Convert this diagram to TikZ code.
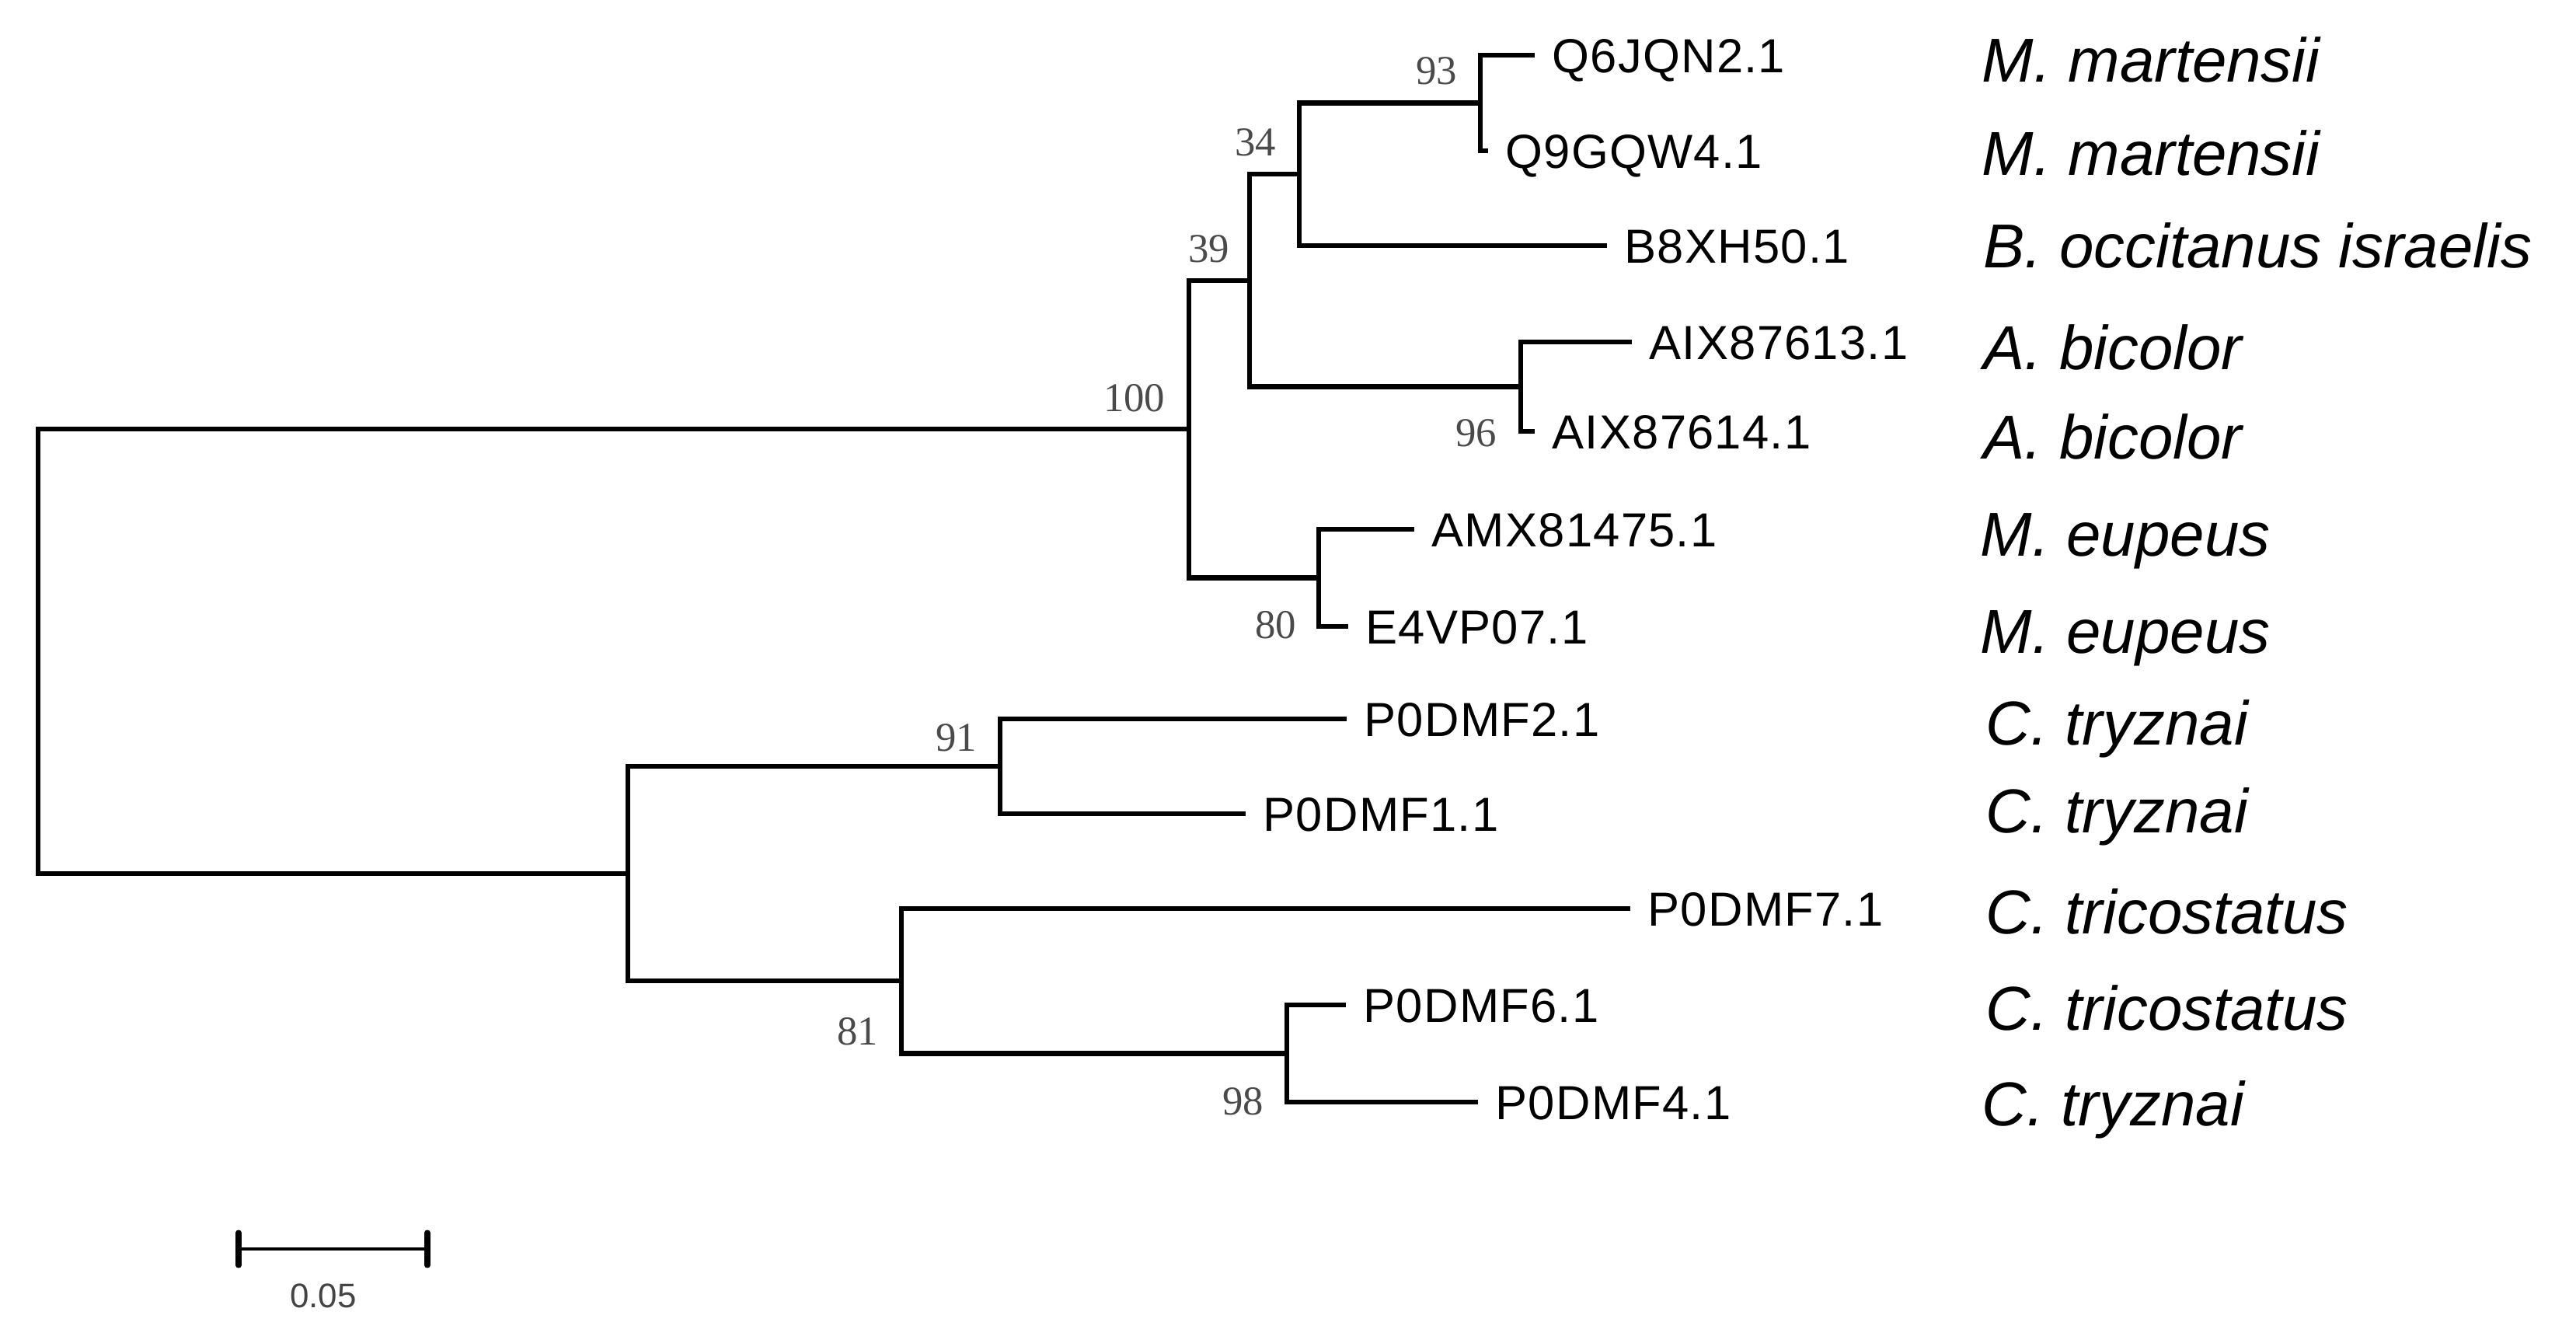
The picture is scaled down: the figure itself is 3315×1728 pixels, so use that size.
\documentclass[tikz,border=0pt]{standalone}
\usepackage{fontspec}
\setmainfont{Liberation Sans}
\newfontfamily\accfont[LetterSpace=2]{Liberation Sans}
\newfontfamily\bsfont{Liberation Serif}
\definecolor{bsgray}{HTML}{4A4A4A}
\definecolor{sbgray}{HTML}{444444}
\begin{document}
\begin{tikzpicture}[x=0.01cm,y=-0.01cm,
  branch/.style={line width=1.9pt, black},
  acc/.style={anchor=base west, inner sep=0pt, xshift=0.22cm, yshift=-6.3pt, font=\accfont\fontsize{17.5}{20}\selectfont},
  species/.style={anchor=base west, inner sep=0pt, yshift=-8.1pt, font=\itshape\fontsize{22.7}{26}\selectfont},
  boot/.style={anchor=base east, inner sep=0pt, yshift=-5.1pt, text=bsgray, font=\bsfont\fontsize{15}{18}\selectfont},
  scaletext/.style={anchor=base, inner sep=0pt, yshift=-4.5pt, text=sbgray, font=\fontsize{12.5}{15}\selectfont}]
\fill[white] (0,0) rectangle (3315,1728);
\useasboundingbox (0,0) rectangle (3315,1728);
% internal nodes
\coordinate (root) at (49,838);
\coordinate (n100) at (1530,552);
\coordinate (n39) at (1608,361);
\coordinate (n34) at (1672,224);
\coordinate (n93) at (1905,132.5);
\coordinate (n96) at (1957,497.5);
\coordinate (n80) at (1697,743.5);
\coordinate (nX) at (808,1124);
\coordinate (n91) at (1287,986);
\coordinate (n81) at (1160,1262);
\coordinate (n98) at (1656,1355.5);
% leaf tips
\coordinate (tQ6) at (1975,71);
\coordinate (tQ9) at (1915,194);
\coordinate (tB8) at (2068,316);
\coordinate (tA13) at (2100,440);
\coordinate (tA14) at (1975,555);
\coordinate (tAMX) at (1820,681);
\coordinate (tE4) at (1735,806);
\coordinate (tP2) at (1733,925);
\coordinate (tP1) at (1603,1047);
\coordinate (tP7) at (2098,1169);
\coordinate (tP6) at (1732,1293);
\coordinate (tP4) at (1902,1418);
% branches
\draw[branch] (root) |- (n100);
\draw[branch] (root) |- (nX);
\draw[branch] (n100) |- (n39);
\draw[branch] (n100) |- (n80);
\draw[branch] (n39) |- (n34);
\draw[branch] (n39) |- (n96);
\draw[branch] (n34) |- (n93);
\draw[branch] (n34) |- (tB8);
\draw[branch] (n93) |- (tQ6);
\draw[branch] (n93) |- (tQ9);
\draw[branch] (n96) |- (tA13);
\draw[branch] (n96) |- (tA14);
\draw[branch] (n80) |- (tAMX);
\draw[branch] (n80) |- (tE4);
\draw[branch] (nX) |- (n91);
\draw[branch] (nX) |- (n81);
\draw[branch] (n91) |- (tP2);
\draw[branch] (n91) |- (tP1);
\draw[branch] (n81) |- (tP7);
\draw[branch] (n81) |- (n98);
\draw[branch] (n98) |- (tP6);
\draw[branch] (n98) |- (tP4);
% accession labels
\node[acc] (lQ6) at (tQ6) {Q6JQN2.1};
\node[acc] (lQ9) at (tQ9) {Q9GQW4.1};
\node[acc] (lB8) at (tB8) {B8XH50.1};
\node[acc] (lA13) at (tA13) {AIX87613.1};
\node[acc] (lA14) at (tA14) {AIX87614.1};
\node[acc] (lAMX) at (tAMX) {AMX81475.1};
\node[acc] (lE4) at (tE4) {E4VP07.1};
\node[acc] (lP2) at (tP2) {P0DMF2.1};
\node[acc] (lP1) at (tP1) {P0DMF1.1};
\node[acc] (lP7) at (tP7) {P0DMF7.1};
\node[acc] (lP6) at (tP6) {P0DMF6.1};
\node[acc] (lP4) at (tP4) {P0DMF4.1};
% species labels
\node[species] (s1) at (2550,77) {M. martensii};
\node[species] (s2) at (2550,197) {M. martensii};
\node[species] (s3) at (2552,316) {B. occitanus israelis};
\node[species] (s4) at (2552,447) {A. bicolor};
\node[species] (s5) at (2552,562) {A. bicolor};
\node[species] (s6) at (2548,687) {M. eupeus};
\node[species] (s7) at (2548,812) {M. eupeus};
\node[species] (s8) at (2555,930) {C. tryznai};
\node[species] (s9) at (2555,1043) {C. tryznai};
\node[species] (s10) at (2555,1173) {C. tricostatus};
\node[species] (s11) at (2555,1297) {C. tricostatus};
\node[species] (s12) at (2550,1420) {C. tryznai};
% bootstrap values
\node[boot] (b93) at (1876,91) {93};
\node[boot] (b34) at (1643,183) {34};
\node[boot] (b39) at (1583,320) {39};
\node[boot] (b100) at (1500,512) {100};
\node[boot] (b96) at (1927,557) {96};
\node[boot] (b80) at (1669,804) {80};
\node[boot] (b91) at (1258,949) {91};
\node[boot] (b81) at (1131,1327) {81};
\node[boot] (b98) at (1627,1417) {98};
% scale bar
\coordinate (sbL) at (307,1607);
\coordinate (sbR) at (550,1607);
\draw[line width=1.3pt] (sbL) -- (sbR);
\draw[line width=2pt, line cap=round] (sbL) ++(0,-21) -- ++(0,42);
\draw[line width=2pt, line cap=round] (sbR) ++(0,-21) -- ++(0,42);
\node[scaletext] (sbtext) at (416,1667) {0.05};
\end{tikzpicture}
\end{document}
